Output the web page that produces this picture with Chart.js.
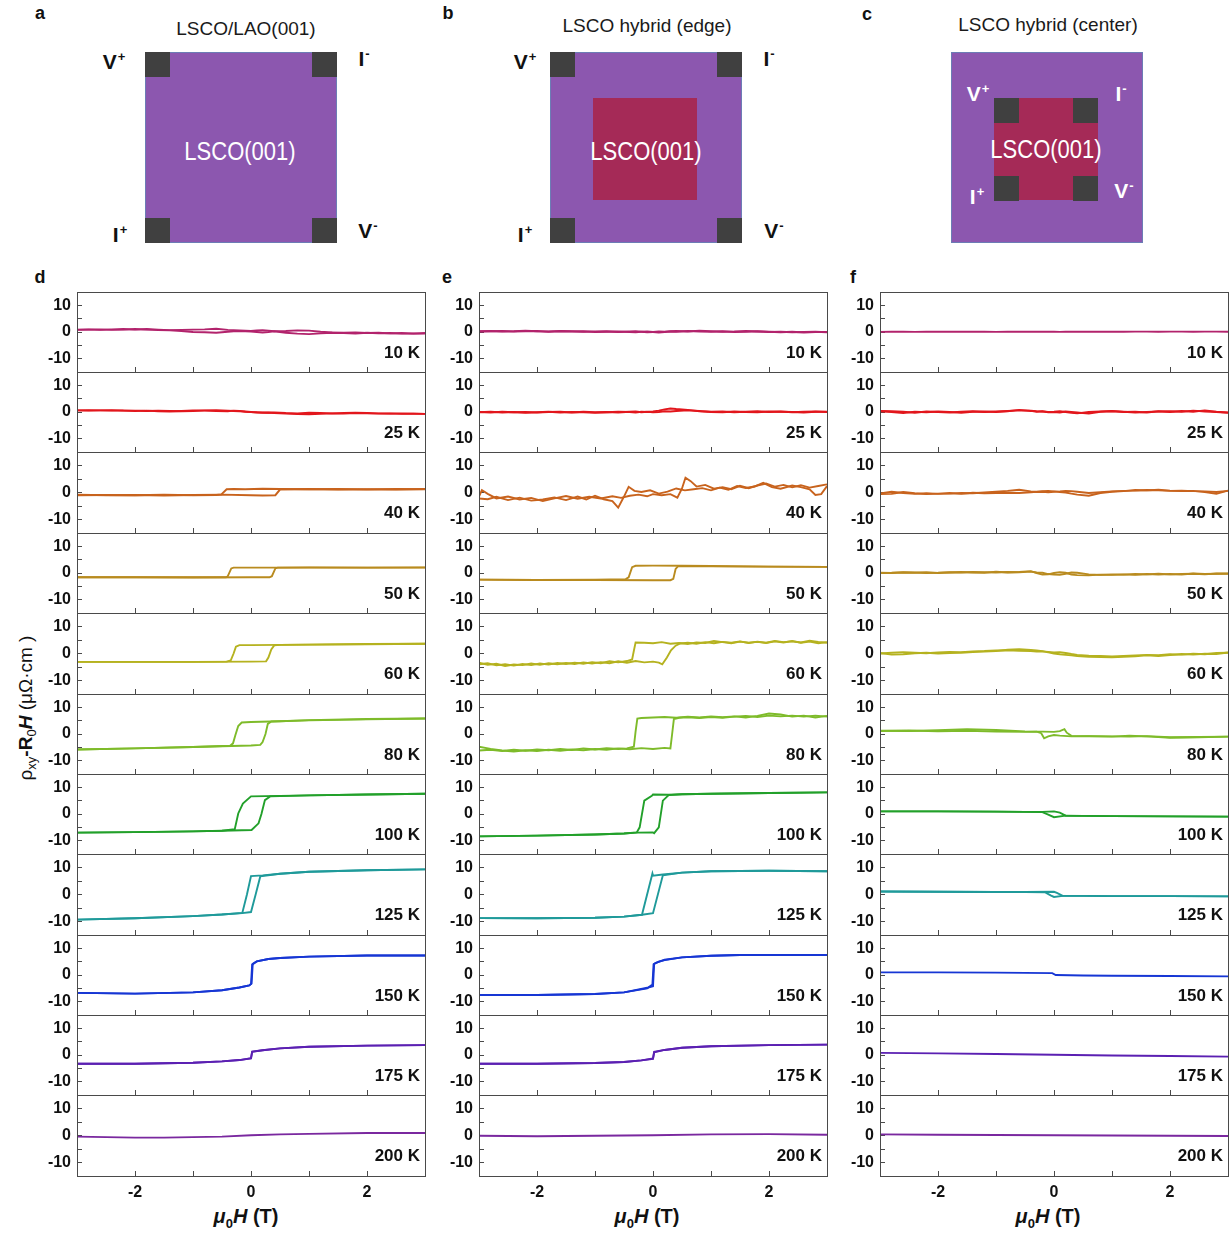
<!DOCTYPE html>
<html><head><meta charset="utf-8">
<script src="https://cdn.jsdelivr.net/npm/chart.js@4.4.1/dist/chart.umd.min.js"></script>
<style>
html,body{margin:0;padding:0;background:#fff;}
#root{position:relative;width:1229px;height:1237px;overflow:hidden;font-family:"Liberation Sans",Arial,sans-serif;color:#111;background:#fff;}
#root canvas{position:absolute;}
.c{position:absolute;transform:translate(-50%,-50%);white-space:nowrap;line-height:1;}
.lett{font-weight:bold;font-size:18px;}
.ttl{font-size:19px;color:#1a1a1a;}
.box{position:absolute;box-sizing:border-box;}
.sub{background:#8C57AF;border:1px solid #6C7DB5;}
.inner{background:#A52A57;}
.ct{background:#404040;width:25px;height:25px;}
.in{color:#fff;font-size:22px;transform:translate(-50%,-50%) scaleY(1.15);}
.lab{font-weight:bold;font-size:21px;}
.lab .sp{font-size:13px;position:relative;top:-8px;margin-left:1px;}
.w{color:#fff;}
.xt{font-size:20px;font-weight:bold;}
.xt sub{font-size:13px;}
.yt{font-size:19px;transform:translate(-50%,-50%) rotate(-90deg);}
.yt sub{font-size:13px;}
</style>
</head><body>
<div id="root">
<!-- panel letters -->
<div class="c lett" style="left:40px;top:13px">a</div>
<div class="c lett" style="left:448px;top:13px">b</div>
<div class="c lett" style="left:867px;top:14px">c</div>
<div class="c lett" style="left:40px;top:277px">d</div>
<div class="c lett" style="left:447px;top:277px">e</div>
<div class="c lett" style="left:853px;top:277px">f</div>

<!-- schematic a -->
<div class="c ttl" style="left:246px;top:28px">LSCO/LAO(001)</div>
<div class="box sub" style="left:145px;top:52px;width:192px;height:191px"></div>
<div class="box ct" style="left:145px;top:52px"></div>
<div class="box ct" style="left:312px;top:52px"></div>
<div class="box ct" style="left:145px;top:218px"></div>
<div class="box ct" style="left:312px;top:218px"></div>
<div class="c in" style="left:240px;top:152px">LSCO(001)</div>
<div class="c lab" style="left:114px;top:61px">V<span class="sp">+</span></div>
<div class="c lab" style="left:364px;top:58px">I<span class="sp">-</span></div>
<div class="c lab" style="left:120px;top:234px">I<span class="sp">+</span></div>
<div class="c lab" style="left:368px;top:230px">V<span class="sp">-</span></div>

<!-- schematic b -->
<div class="c ttl" style="left:647px;top:25px">LSCO hybrid (edge)</div>
<div class="box sub" style="left:550px;top:52px;width:192px;height:191px"></div>
<div class="box inner" style="left:593px;top:98px;width:104px;height:102px"></div>
<div class="box ct" style="left:550px;top:52px"></div>
<div class="box ct" style="left:717px;top:52px"></div>
<div class="box ct" style="left:550px;top:218px"></div>
<div class="box ct" style="left:717px;top:218px"></div>
<div class="c in" style="left:646px;top:152px">LSCO(001)</div>
<div class="c lab" style="left:525px;top:61px">V<span class="sp">+</span></div>
<div class="c lab" style="left:769px;top:58px">I<span class="sp">-</span></div>
<div class="c lab" style="left:525px;top:234px">I<span class="sp">+</span></div>
<div class="c lab" style="left:774px;top:230px">V<span class="sp">-</span></div>

<!-- schematic c -->
<div class="c ttl" style="left:1048px;top:24px">LSCO hybrid (center)</div>
<div class="box sub" style="left:951px;top:52px;width:192px;height:191px"></div>
<div class="box inner" style="left:994px;top:98px;width:104px;height:102px"></div>
<div class="box ct" style="left:994px;top:98px"></div>
<div class="box ct" style="left:1073px;top:98px"></div>
<div class="box ct" style="left:994px;top:176px"></div>
<div class="box ct" style="left:1073px;top:176px"></div>
<div class="c in" style="left:1046px;top:150px">LSCO(001)</div>
<div class="c lab w" style="left:978px;top:93px">V<span class="sp">+</span></div>
<div class="c lab w" style="left:1121px;top:93px">I<span class="sp">-</span></div>
<div class="c lab w" style="left:977px;top:196px">I<span class="sp">+</span></div>
<div class="c lab w" style="left:1124px;top:190px">V<span class="sp">-</span></div>

<!-- axis titles -->
<div class="c yt" style="left:27px;top:708px">ρ<sub>xy</sub><b>-R</b><sub>0</sub><b><i>H</i></b> (μΩ·cm )</div>
<div class="c xt" style="left:246px;top:1218px"><i>μ</i><sub>0</sub><i>H</i> (T)</div>
<div class="c xt" style="left:647px;top:1218px"><i>μ</i><sub>0</sub><i>H</i> (T)</div>
<div class="c xt" style="left:1048px;top:1218px"><i>μ</i><sub>0</sub><i>H</i> (T)</div>
</div>

<script>
// ---------------- DATA ----------------
const temps = ['10 K','25 K','40 K','50 K','60 K','80 K','100 K','125 K','150 K','175 K','200 K'];
const tempColors = ['#B2236C','#E2161C','#C8631D','#B98B1F','#B5B21F','#7EBB2A','#22A02A','#1F9A9A','#1636D4','#5B20B2','#7A289F'];
const xTickLabels = [-2, 0, 2];
const yTickLabels = [-10, 0, 10];

// common field grid (T) for the noisy near-flat curves
const NX = [-3,-2.8,-2.6,-2.4,-2.2,-2,-1.8,-1.6,-1.4,-1.2,-1,-0.8,-0.6,-0.4,-0.3,-0.2,-0.1,0,0.1,0.2,0.3,0.4,0.6,0.8,1,1.2,1.4,1.6,1.8,2,2.2,2.4,2.6,2.8,3];

// ---- column d : LSCO/LAO(001) ----
const d10dn = [0.9,1.0,0.8,1.0,1.1,0.9,1.1,0.9,0.7,0.8,0.9,1.0,1.2,0.8,0.7,0.6,0.5,0.4,0.6,0.7,0.5,0.3,0.4,0.6,0.5,0.1,-0.2,-0.3,-0.2,-0.4,-0.3,-0.5,-0.4,-0.6,-0.4];
const d10up = [0.8,0.9,1.0,0.8,0.9,1.1,0.9,0.7,0.6,0.4,0.0,-0.1,-0.3,0.1,0.3,0.4,0.3,0.2,0.0,-0.2,0.0,0.3,-0.3,-0.6,-0.8,-0.5,-0.3,-0.4,-0.6,-0.3,-0.5,-0.4,-0.6,-0.5,-0.6];
const d25dn = [0.6,0.7,0.6,0.5,0.6,0.5,0.4,0.5,0.4,0.3,0.4,0.6,0.7,0.5,0.4,0.3,0.2,0.0,-0.1,-0.2,-0.3,-0.2,-0.4,-0.5,-0.3,-0.4,-0.5,-0.4,-0.3,-0.4,-0.5,-0.6,-0.5,-0.6,-0.7];
const d25up = [0.6,0.5,0.6,0.7,0.5,0.4,0.5,0.3,0.2,0.4,0.6,0.5,0.4,0.3,0.5,0.4,0.1,0.0,-0.2,-0.3,-0.2,-0.4,-0.6,-0.8,-0.9,-0.7,-0.5,-0.6,-0.4,-0.5,-0.6,-0.5,-0.7,-0.6,-0.7];
const d40dn = [[3,1.2],[2.5,1.3],[2,1.1],[1.5,1.3],[1,1.2],[0.5,1.3],[0.2,1.4],[-0.1,1.2],[-0.3,1.3],[-0.42,1.2],[-0.51,-0.7],[-0.6,-0.9],[-1,-1.0],[-1.5,-0.8],[-2,-1.0],[-2.5,-0.9],[-3,-1.0]];
const d40up = [[-3,-0.8],[-2.5,-1.0],[-2,-0.9],[-1.5,-1.1],[-1,-0.9],[-0.5,-0.8],[0,-1.0],[0.2,-1.1],[0.42,-1.0],[0.5,1.1],[1,1.3],[1.5,1.1],[2,1.2],[2.5,1.1],[3,1.3]];
const d50dn = [[3,2.0],[2,2.0],[1,2.1],[0.5,2.0],[0,2.0],[-0.3,2.0],[-0.34,1.7],[-0.4,-1.2],[-0.43,-1.6],[-1,-1.6],[-2,-1.6],[-3,-1.6]];
const d50up = [[-3,-1.6],[-2,-1.6],[-1,-1.7],[0,-1.6],[0.32,-1.6],[0.36,-1.2],[0.42,1.7],[0.46,2.0],[1,2.0],[2,2.0],[3,2.1]];
const d60dn = [[3,3.6],[2,3.4],[1,3.3],[0.5,3.2],[0,3.1],[-0.2,3.1],[-0.26,2.5],[-0.3,0],[-0.35,-2.6],[-0.42,-3.0],[-1,-3.1],[-2,-3.1],[-3,-3.1]];
const d60up = [[-3,-3.1],[-2,-3.1],[-1,-3.1],[0,-3.0],[0.26,-2.9],[0.3,-1.5],[0.35,1.5],[0.4,3.0],[0.5,3.2],[1,3.3],[2,3.5],[3,3.6]];
const d80dn = [[3,5.8],[2,5.6],[1,5.2],[0.5,4.8],[0,4.5],[-0.16,4.3],[-0.22,3.0],[-0.27,-0.5],[-0.31,-3.5],[-0.36,-4.4],[-1,-4.9],[-2,-5.4],[-3,-5.8]];
const d80up = [[-3,-5.8],[-2,-5.4],[-1,-4.9],[-0.5,-4.6],[0,-4.3],[0.16,-4.1],[0.2,-3.0],[0.25,0],[0.29,3.8],[0.35,4.7],[1,5.1],[2,5.5],[3,5.8]];
const d100dn = [[3,7.6],[2,7.3],[1,7.0],[0.5,6.8],[0,6.6],[-0.14,3.9],[-0.22,0.2],[-0.28,-5.7],[-0.5,-6.3],[-1,-6.5],[-2,-6.8],[-3,-7.0]];
const d100up = [[-3,-7.0],[-2,-6.8],[-1,-6.5],[-0.5,-6.3],[0.01,-6.0],[0.13,-3.5],[0.18,0],[0.24,5.2],[0.33,6.6],[1,7.0],[2,7.3],[3,7.6]];
const d125dn = [[3,9.3],[2,9.0],[1,8.4],[0.5,7.7],[0.2,7.1],[0,6.8],[-0.07,0],[-0.15,-6.8],[-0.5,-7.4],[-1,-8.0],[-2,-8.8],[-3,-9.3]];
const d125up = [[-3,-9.3],[-2,-8.8],[-1,-8.0],[-0.5,-7.4],[-0.15,-6.9],[0,-6.5],[0.08,0],[0.16,6.7],[0.5,7.7],[1,8.4],[2,9.0],[3,9.3]];
const d150dn = [[3,7.3],[2,7.3],[1,6.9],[0.5,6.4],[0.3,6.0],[0.1,5.1],[0.03,4.2],[0.01,-3.2],[-0.03,-3.9],[-0.2,-4.7],[-0.5,-5.7],[-1,-6.5],[-2,-7.0],[-3,-6.7]];
const d150up = [[-3,-6.7],[-2,-7.0],[-1,-6.5],[-0.5,-5.7],[-0.2,-4.7],[-0.03,-3.9],[0,-3.4],[0.02,3.9],[0.1,5.1],[0.3,6.0],[0.5,6.4],[1,6.9],[2,7.3],[3,7.3]];
const d175dn = [[3,3.7],[2,3.5],[1,3.1],[0.5,2.5],[0.2,1.8],[0.02,1.3],[0,-1.2],[-0.2,-1.9],[-0.5,-2.4],[-1,-2.9],[-2,-3.3],[-3,-3.3]];
const d175up = [[-3,-3.3],[-2,-3.3],[-1,-2.9],[-0.5,-2.4],[-0.2,-1.9],[0,-1.3],[0.02,1.2],[0.2,1.8],[0.5,2.5],[1,3.1],[2,3.5],[3,3.7]];
const d200 = [[-3,-0.4],[-2,-0.8],[-1.5,-0.8],[-1,-0.6],[-0.5,-0.4],[0,0.1],[0.5,0.4],[1,0.6],[2,0.9],[3,0.9]];

// ---- column e : LSCO hybrid (edge) ----
const e10a = [0.3,0.4,0.2,0.3,0.5,0.3,0.2,0.4,0.3,0.1,0.2,0.3,0.0,0.2,0.3,0.1,-0.1,0.0,0.2,0.1,0.3,0.4,0.2,0.5,0.3,0.1,0.2,0.4,0.2,0.0,0.1,-0.1,0.0,0.1,-0.1];
const e10b = [0.2,0.3,0.4,0.2,0.3,0.4,0.1,0.3,0.2,0.3,0.0,0.1,0.2,0.0,-0.1,0.1,0.2,0.0,-0.2,0.0,0.2,0.1,0.4,0.2,0.1,0.3,0.0,0.1,0.3,0.1,-0.1,0.1,-0.2,0.0,0.0];
const e25a = [-0.1,0.1,-0.2,0.0,-0.3,-0.1,0.1,-0.2,0.0,-0.1,-0.3,-0.1,0.1,0.0,-0.2,0.1,0.0,0.2,0.5,1.0,1.3,1.1,0.8,0.3,0.1,0.2,-0.1,0.1,0.3,0.0,0.2,-0.1,0.1,0.2,0.0];
const e25b = [0.0,-0.2,0.1,-0.1,0.0,-0.2,0.0,0.1,-0.2,0.1,-0.1,0.0,-0.2,0.1,0.2,-0.1,0.1,-0.1,0.0,0.3,0.2,0.4,0.6,0.4,0.0,-0.1,0.2,0.0,-0.1,0.2,0.1,0.0,-0.2,0.1,0.1];
const e40up = [[-3,-1.5],[-2.95,0.9],[-2.85,-0.5],[-2.7,-2.2],[-2.5,-1.5],[-2.3,-2.6],[-2.1,-2.0],[-1.9,-3.2],[-1.7,-2.2],[-1.5,-1.3],[-1.3,-2.3],[-1.1,-1.6],[-0.9,-2.2],[-0.7,-1.4],[-0.55,-2.0],[-0.4,-1.2],[-0.25,-0.8],[-0.1,-1.4],[0,-0.6],[0.15,-1.0],[0.3,-0.6],[0.42,-1.9],[0.5,1.5],[0.56,5.5],[0.65,4.2],[0.75,2.2],[0.9,2.8],[1.05,1.4],[1.2,2.0],[1.35,1.2],[1.5,2.5],[1.65,1.6],[1.8,2.6],[1.95,3.3],[2.1,2.2],[2.25,2.8],[2.4,1.9],[2.55,2.7],[2.7,1.8],[2.85,2.4],[3,3.0]];
const e40dn = [[3,2.4],[2.9,-0.6],[2.8,-0.9],[2.7,1.2],[2.55,2.0],[2.4,2.6],[2.2,1.4],[2.05,2.0],[1.9,3.6],[1.75,2.2],[1.6,1.7],[1.45,2.4],[1.3,1.0],[1.15,1.8],[1.0,0.8],[0.85,1.6],[0.7,1.2],[0.55,0.8],[0.4,1.5],[0.25,0.3],[0.1,-0.4],[-0.05,0.8],[-0.2,0.2],[-0.32,0.6],[-0.42,2.1],[-0.5,-1.5],[-0.6,-5.6],[-0.7,-3.2],[-0.85,-2.5],[-1.0,-1.2],[-1.15,-2.6],[-1.3,-1.5],[-1.5,-2.8],[-1.7,-1.8],[-1.9,-2.6],[-2.1,-3.0],[-2.3,-1.9],[-2.5,-2.8],[-2.7,-1.6],[-2.85,-2.5],[-3,-2.2]];
const e50dn = [[3,2.3],[2,2.4],[1,2.6],[0.5,2.7],[0,2.75],[-0.3,2.7],[-0.36,2.2],[-0.42,-1.6],[-0.47,-2.3],[-1,-2.5],[-2,-2.6],[-3,-2.5]];
const e50up = [[-3,-2.5],[-2,-2.6],[-1,-2.6],[0,-2.7],[0.3,-2.7],[0.35,-2.2],[0.39,1.5],[0.43,2.5],[1,2.5],[2,2.4],[3,2.3]];
const e60dn = [[3,4.2],[2.85,3.8],[2.7,4.4],[2.55,4.0],[2.4,4.6],[2.25,4.1],[2.1,4.5],[1.95,3.9],[1.8,4.3],[1.65,4.0],[1.5,4.4],[1.35,3.8],[1.2,4.2],[1.05,4.6],[0.9,3.9],[0.75,4.1],[0.6,3.5],[0.45,3.9],[0.3,3.6],[0.15,4.2],[0,3.8],[-0.15,4.0],[-0.3,4.1],[-0.33,1.0],[-0.36,-2.2],[-0.45,-2.8],[-0.6,-3.3],[-0.75,-2.9],[-0.9,-3.6],[-1.05,-3.2],[-1.2,-3.8],[-1.35,-3.4],[-1.5,-3.9],[-1.65,-3.5],[-1.8,-4.1],[-1.95,-3.7],[-2.1,-4.3],[-2.25,-3.9],[-2.4,-4.5],[-2.55,-4.0],[-2.7,-4.4],[-2.85,-3.6],[-3,-4.0]];
const e60up = [[-3,-3.4],[-2.85,-4.2],[-2.7,-3.8],[-2.55,-4.6],[-2.4,-4.1],[-2.25,-4.3],[-2.1,-3.7],[-1.95,-4.2],[-1.8,-3.6],[-1.65,-4.0],[-1.5,-3.5],[-1.35,-3.9],[-1.2,-3.3],[-1.05,-3.7],[-0.9,-3.2],[-0.75,-3.6],[-0.6,-2.9],[-0.45,-3.4],[-0.3,-2.8],[-0.15,-3.3],[0,-3.0],[0.1,-3.4],[0.16,-4.0],[0.24,-1.5],[0.31,1.2],[0.39,2.9],[0.47,3.7],[0.6,4.0],[0.75,3.6],[0.9,4.2],[1.05,3.8],[1.2,4.3],[1.35,4.0],[1.5,4.5],[1.65,3.9],[1.8,4.4],[1.95,4.0],[2.1,4.6],[2.25,4.2],[2.4,4.5],[2.55,4.1],[2.7,4.7],[2.85,4.3],[3,4.0]];
const e80dn = [[3,6.8],[2.8,6.2],[2.6,6.9],[2.4,6.5],[2.2,7.3],[2,7.7],[1.8,6.8],[1.6,6.2],[1.4,6.6],[1.2,6.3],[1,6.6],[0.8,6.2],[0.6,6.5],[0.4,6.1],[0.2,6.4],[0,6.2],[-0.2,6.0],[-0.27,5.8],[-0.3,1.0],[-0.33,-4.8],[-0.45,-5.4],[-0.6,-5.6],[-0.8,-5.3],[-1,-5.8],[-1.2,-5.4],[-1.4,-6.0],[-1.6,-5.6],[-1.8,-6.1],[-2,-5.8],[-2.2,-6.3],[-2.4,-5.9],[-2.6,-6.4],[-2.8,-5.9],[-3,-6.2]];
const e80up = [[-3,-4.8],[-2.8,-5.6],[-2.6,-6.2],[-2.4,-6.6],[-2.2,-6.1],[-2,-6.4],[-1.8,-5.9],[-1.6,-6.3],[-1.4,-5.8],[-1.2,-6.1],[-1,-5.6],[-0.8,-5.9],[-0.6,-5.4],[-0.4,-5.7],[-0.2,-5.3],[0,-5.6],[0.2,-5.2],[0.3,-5.4],[0.33,0],[0.36,5.6],[0.45,6.1],[0.6,6.3],[0.8,6.0],[1,6.4],[1.2,6.1],[1.4,6.5],[1.6,6.8],[1.8,6.4],[2,6.9],[2.2,6.6],[2.4,6.9],[2.6,6.5],[2.8,6.9],[3,6.5]];
const e100dn = [[3,8.1],[2,7.9],[1,7.6],[0.5,7.4],[0.27,7.2],[0,7.3],[-0.02,6.8],[-0.15,5.0],[-0.23,-5.0],[-0.28,-6.9],[-0.5,-7.3],[-1,-7.7],[-2,-8.1],[-3,-8.4]];
const e100up = [[-3,-8.4],[-2,-8.1],[-1,-7.7],[-0.5,-7.3],[-0.28,-7.0],[0,-6.9],[0.02,-7.2],[0.1,-5.0],[0.17,5.0],[0.27,7.1],[0.5,7.4],[1,7.6],[2,7.9],[3,8.1]];
const e125dn = [[3,8.6],[2,8.8],[1,8.6],[0.5,8.1],[0.17,7.4],[0,7.0],[-0.01,7.8],[-0.19,-7.5],[-0.5,-8.2],[-1,-8.6],[-2,-8.8],[-3,-8.75]];
const e125up = [[-3,-8.75],[-2,-8.8],[-1,-8.6],[-0.5,-8.2],[-0.19,-7.5],[0,-6.9],[0.17,7.1],[0.5,8.1],[1,8.6],[2,8.8],[3,8.6]];
const e150dn = [[3,7.5],[2,7.5],[1.5,7.5],[1,7.2],[0.5,6.6],[0.2,5.7],[0.05,4.6],[0.01,4.0],[-0.01,-3.6],[-0.1,-5.0],[-0.5,-6.5],[-1,-7.1],[-2,-7.5],[-3,-7.5]];
const e150up = [[-3,-7.5],[-2,-7.5],[-1,-7.1],[-0.5,-6.5],[-0.1,-4.8],[0,-4.2],[0.02,4.2],[0.1,5.0],[0.2,5.6],[0.5,6.6],[1,7.2],[1.5,7.5],[2,7.5],[3,7.5]];
const e175dn = [[3,3.9],[2,3.7],[1,3.3],[0.5,2.7],[0.2,1.9],[0.02,1.2],[0,-1.3],[-0.2,-2.0],[-0.5,-2.6],[-1,-3.0],[-2,-3.3],[-3,-3.3]];
const e175up = [[-3,-3.3],[-2,-3.3],[-1,-3.0],[-0.5,-2.6],[-0.2,-2.0],[0,-1.5],[0.02,1.0],[0.2,1.9],[0.5,2.7],[1,3.3],[2,3.7],[3,3.9]];
const e200 = [[-3,-0.1],[-2,-0.3],[-1,-0.1],[0,0.1],[1,0.4],[2,0.5],[3,0.3]];

// ---- column f : LSCO hybrid (center) ----
const f10 = [0.05,0.1,0.1,0.05,0.1,0.1,0.15,0.1,0.1,0.1,0.05,0.1,0.1,0.15,0.1,0.1,0.1,0.1,0.05,0.1,0.1,0.15,0.1,0.1,0.15,0.1,0.15,0.15,0.1,0.15,0.15,0.1,0.15,0.15,0.1];
const f25a = [0.4,0.3,0.1,-0.3,0.2,0.0,-0.2,0.1,0.3,0.0,0.2,0.4,0.6,0.5,0.3,0.2,0.0,0.1,0.3,0.0,-0.3,-0.5,0.0,0.2,0.4,0.1,-0.2,0.0,0.2,0.3,0.1,0.5,0.2,0.0,-0.3];
const f25b = [0.3,0.0,-0.4,0.1,-0.1,0.2,0.0,-0.3,0.1,0.2,0.0,0.3,0.8,0.4,0.1,0.3,-0.1,0.0,-0.2,0.2,0.0,-0.2,-0.6,0.1,0.3,0.0,0.1,-0.2,0.3,0.0,0.4,0.1,0.6,0.1,-0.2];
const f40a = [-0.4,0.3,-0.2,-0.5,-0.3,-0.5,-0.4,-0.2,-0.3,0.0,0.3,0.6,1.0,0.4,0.2,0.3,0.1,0.3,0.4,0.6,0.5,0.3,-0.2,0.1,0.4,0.6,0.7,0.9,0.8,0.6,0.7,0.5,0.4,0.2,0.6];
const f40b = [-0.6,-0.5,0.2,-0.3,-0.6,-0.4,-0.2,-0.5,-0.1,-0.3,-0.2,-0.1,-0.2,0.1,0.3,0.5,0.6,0.4,0.2,0.0,-0.4,-0.8,-1.2,-0.2,0.3,0.5,0.9,0.8,1.0,0.7,0.5,0.6,0.2,-0.5,0.7];
const f50a = [0.0,0.1,0.3,0.2,0.0,0.1,0.3,0.2,0.4,0.3,0.2,0.4,0.3,0.5,0.2,0.1,-0.4,-0.6,-0.7,-0.3,0.2,0.1,-0.5,-0.7,-0.5,-0.6,-0.4,-0.5,-0.3,-0.5,-0.4,-0.3,-0.5,-0.2,-0.3];
const f50b = [0.1,0.0,0.2,0.1,0.3,0.0,0.2,0.4,0.2,0.1,0.5,0.2,0.4,0.7,0.0,-0.6,-0.5,0.0,0.3,0.1,-0.6,-0.8,-0.9,-0.6,-0.7,-0.5,-0.7,-0.4,-0.6,-0.4,-0.6,-0.2,-0.4,-0.3,-0.2];
const f60a = [0.0,0.3,0.5,0.3,0.1,0.4,0.6,0.5,0.8,0.9,1.1,1.2,1.0,0.9,0.7,0.8,0.6,0.4,0.5,0.2,-0.2,-0.5,-0.8,-0.9,-1.1,-0.9,-0.7,-0.5,-0.6,-0.3,-0.4,-0.1,-0.3,0.2,0.3];
const f60b = [0.2,-0.4,-0.3,0.1,0.3,0.0,0.2,0.3,0.5,0.7,0.9,1.4,1.6,1.3,1.1,0.9,0.4,0.0,-0.3,-0.5,-0.7,-0.9,-1.2,-1.3,-1.4,-1.2,-1.0,-0.7,-0.9,-0.6,-0.2,-0.4,-0.1,-0.2,0.4];
const f80up = [[-3,1.2],[-2.5,1.1],[-2,1.4],[-1.5,1.8],[-1,1.5],[-0.5,1.0],[-0.2,0.9],[0,0.8],[0.1,1.1],[0.18,1.8],[0.22,0.5],[0.3,-0.7],[0.6,-0.8],[1,-1.0],[1.3,-0.6],[1.6,-0.9],[2,-1.4],[2.5,-1.2],[3,-1.0]];
const f80dn = [[3,-1.0],[2.5,-1.1],[2,-1.2],[1.6,-0.8],[1.3,-1.0],[1,-0.9],[0.6,-0.8],[0.3,-0.9],[0.1,-0.6],[0,-0.4],[-0.1,-0.9],[-0.17,-1.6],[-0.22,0.3],[-0.3,0.9],[-0.5,0.8],[-1,0.9],[-1.5,1.2],[-2,1.0],[-2.5,1.3],[-3,1.1]];
const f100up = [[-3,1.0],[-2,1.0],[-1,0.9],[-0.5,0.8],[-0.2,0.8],[0,1.0],[0.1,0.5],[0.2,-0.6],[0.5,-0.7],[1,-0.8],[2,-0.9],[3,-1.0]];
const f100dn = [[3,-1.0],[2,-0.9],[1,-0.8],[0.5,-0.7],[0.2,-0.6],[0,-1.2],[-0.1,-0.2],[-0.2,0.7],[-0.5,0.8],[-1,0.9],[-2,1.0],[-3,1.0]];
const f125up = [[-3,1.1],[-2,1.0],[-1,0.9],[-0.5,0.9],[0,1.0],[0.05,0.6],[0.15,-0.5],[0.5,-0.5],[1,-0.6],[2,-0.6],[3,-0.7]];
const f125dn = [[3,-0.7],[2,-0.6],[1,-0.6],[0.5,-0.5],[0.15,-0.5],[0,-0.9],[-0.05,-0.4],[-0.15,0.8],[-0.5,0.9],[-1,0.9],[-2,1.0],[-3,1.1]];
const f150 = [[-3,1.0],[-2,1.0],[-1,0.9],[-0.5,0.8],[-0.03,0.7],[0.03,0.0],[0.5,-0.2],[1,-0.3],[2,-0.4],[3,-0.5]];
const f175 = [[-3,0.8],[-2,0.6],[-1,0.4],[0,0.1],[1,-0.2],[2,-0.4],[3,-0.6]];
const f200 = [[-3,0.4],[-2,0.3],[-1,0.2],[0,0.1],[1,0.0],[2,-0.1],[3,-0.2]];

const colD = [[d10dn,d10up],[d25dn,d25up],[d40dn,d40up],[d50dn,d50up],[d60dn,d60up],[d80dn,d80up],[d100dn,d100up],[d125dn,d125up],[d150dn,d150up],[d175dn,d175up],[d200]];
const colE = [[e10a,e10b],[e25a,e25b],[e40dn,e40up],[e50dn,e50up],[e60dn,e60up],[e80dn,e80up],[e100dn,e100up],[e125dn,e125up],[e150dn,e150up],[e175dn,e175up],[e200]];
const colF = [[f10],[f25a,f25b],[f40a,f40b],[f50a,f50b],[f60a,f60b],[f80dn,f80up],[f100dn,f100up],[f125dn,f125up],[f150],[f175],[f200]];

// ---------------- LAYOUT / DRAW ----------------
const FONT = '"Liberation Sans", Arial, sans-serif';
const FRAME = '#4a4a4a';
const COL_LEFT = [77, 479, 880];
const PLOT_W = 348;
const AXIS_W = 60;
const TOPS = [];
for (let i = 0; i <= 11; i++) TOPS.push(Math.round(291.7 + 80.36 * i));

function pts(a) { return Array.isArray(a[0]) ? a : a.map((y, i) => [NX[i], y]); }

const framePlugin = {
  id: 'panelFrame',
  afterDraw(chart, args, opts) {
    const { ctx, chartArea: a } = chart;
    ctx.save();
    ctx.strokeStyle = FRAME;
    ctx.lineWidth = 1;
    ctx.strokeRect(Math.round(a.left) + 0.5, Math.round(a.top) + 0.5, Math.round(a.right - a.left), Math.round(a.bottom - a.top));
    ctx.fillStyle = '#111';
    ctx.font = 'bold 17px ' + FONT;
    ctx.textAlign = 'right';
    ctx.textBaseline = 'middle';
    ctx.fillText(opts.label, a.right - 5, a.top + 61);
    ctx.restore();
  }
};

const root = document.getElementById('root');
[colD, colE, colF].forEach((col, c) => {
  col.forEach((branches, i) => {
    const isBot = i === 10;
    const top = TOPS[i], h = TOPS[i + 1] - TOPS[i];
    const xh = isBot ? 30 : 0;
    const cv = document.createElement('canvas');
    cv.width = AXIS_W + PLOT_W + 8;
    cv.height = 4 + h + 4 + xh;
    cv.style.left = (COL_LEFT[c] - AXIS_W) + 'px';
    cv.style.top = (top - 4) + 'px';
    cv.style.width = cv.width + 'px';
    cv.style.height = cv.height + 'px';
    root.appendChild(cv);
    new Chart(cv, {
      type: 'line',
      data: {
        datasets: branches.map(b => ({
          data: pts(b), borderColor: tempColors[i], borderWidth: 1.9,
          pointRadius: 0, tension: 0, fill: false
        }))
      },
      options: {
        responsive: false, animation: false, devicePixelRatio: 1,
        layout: { padding: { left: 0, right: 8, top: 4, bottom: 4 } },
        plugins: { legend: { display: false }, tooltip: { enabled: false }, panelFrame: { label: temps[i] } },
        scales: {
          x: {
            type: 'linear', min: -3, max: 3, position: 'bottom',
            afterFit: s => { s.height = xh; s.paddingLeft = 0; s.paddingRight = 0; },
            ticks: {
              display: isBot, stepSize: 1, autoSkip: false, maxRotation: 0, padding: 12,
              color: '#111', font: { family: FONT, size: 16, weight: 'bold' },
              callback: v => (xTickLabels.includes(v) ? String(v) : '')
            },
            grid: {
              drawOnChartArea: false, drawTicks: true, tickLength: -5,
              tickColor: ctx => (Math.abs(ctx.tick.value) >= 3 ? 'rgba(0,0,0,0)' : FRAME)
            },
            border: { display: true, color: FRAME, width: 1 }
          },
          y: {
            min: -15, max: 15,
            afterFit: s => { s.width = AXIS_W; s.paddingTop = 0; s.paddingBottom = 0; },
            ticks: {
              stepSize: 5, autoSkip: false, padding: 11,
              color: '#111', font: { family: FONT, size: 16, weight: 'bold' },
              callback: v => (yTickLabels.includes(v) ? String(v) : '')
            },
            grid: {
              drawOnChartArea: false, drawTicks: true, tickLength: -5,
              tickColor: ctx => (Math.abs(ctx.tick.value) >= 15 ? 'rgba(0,0,0,0)' : FRAME)
            },
            border: { display: true, color: FRAME, width: 1 }
          }
        }
      },
      plugins: [framePlugin]
    });
  });
});
</script>
</body></html>
